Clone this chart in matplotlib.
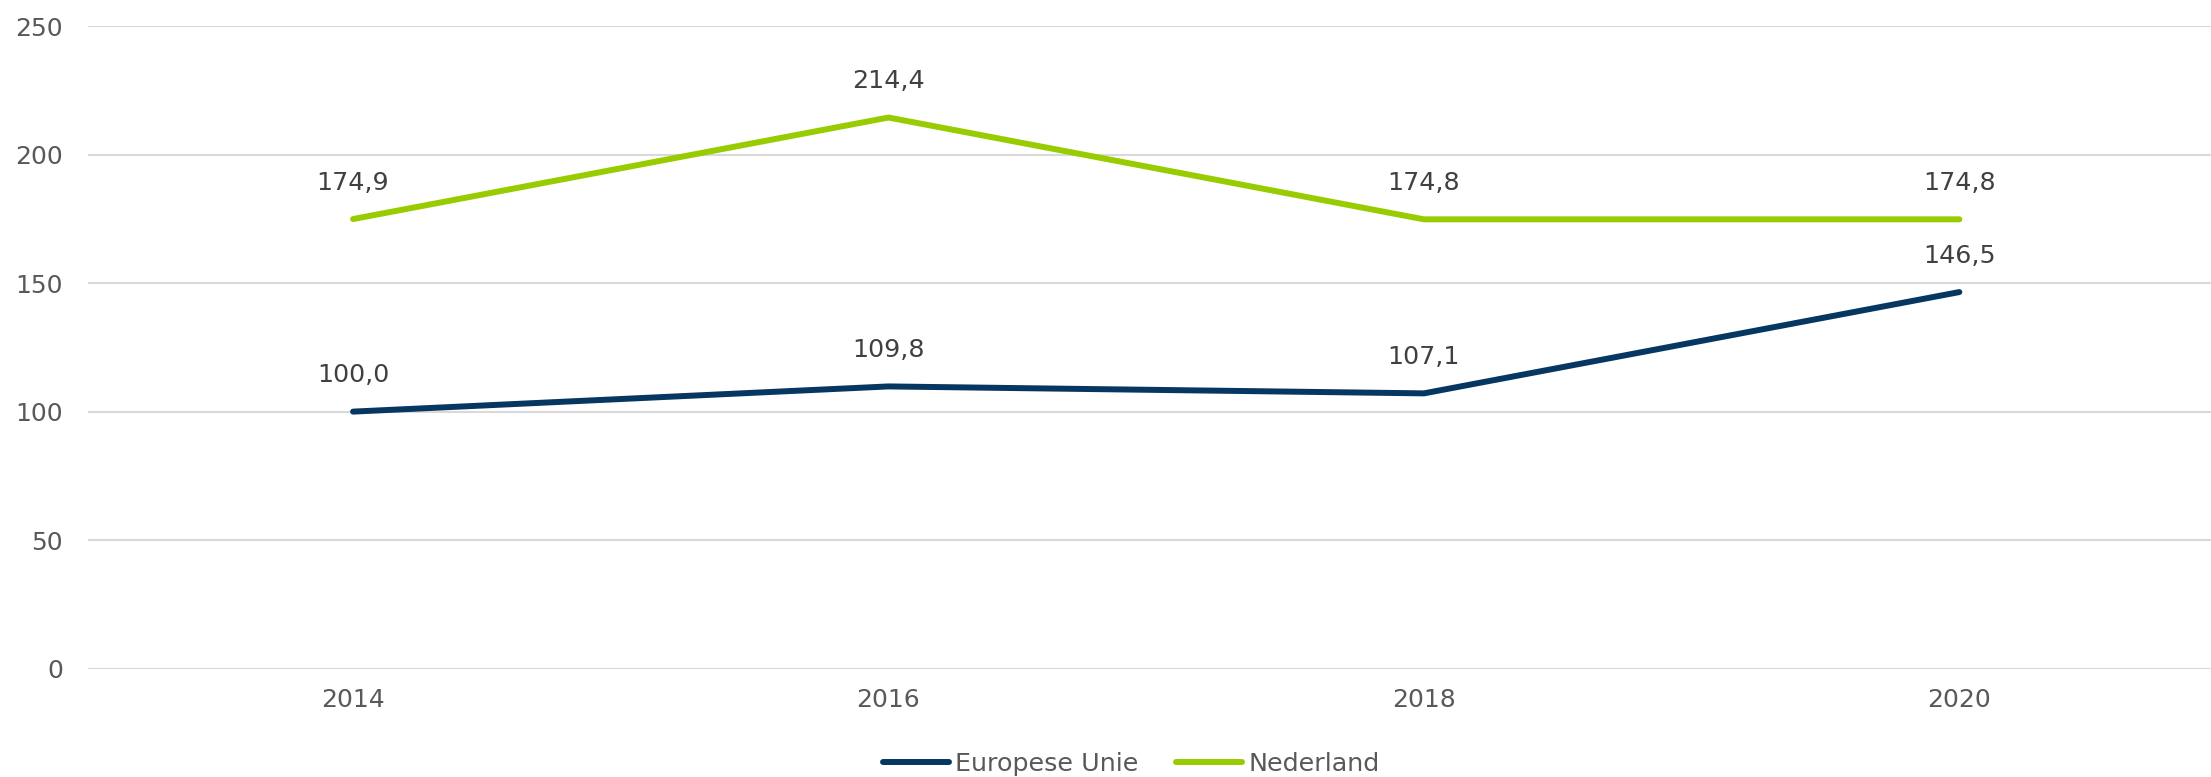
import matplotlib.pyplot as plt

# data
years = ['2014', '2016', '2018', '2020']
eu_values = [100.0, 109.8, 107.1, 146.5]
nl_values = [174.9, 214.4, 174.8, 174.8]
y_ticks = [0, 50, 100, 150, 200, 250]

eu_color = '#063761'
nl_color = '#99CC00'
grid_color = '#D9D9D9'
tick_color = '#595959'
label_color = '#404040'

plt.rcParams['font.family'] = ['DejaVu Sans']

fig = plt.figure(figsize=(22.11, 7.77), dpi=100)
ax = fig.add_axes([88 / 2211, 1 - 668.7 / 777, 1 - 88 / 2211, (668.7 - 26) / 777])

x = list(range(len(years)))

# gridlines first so the lines sit on top
for v in y_ticks:
    ax.axhline(v, color=grid_color, linewidth=1.5, zorder=1)

ax.plot(x, eu_values, color=eu_color, linewidth=4.3, solid_capstyle='round',
        solid_joinstyle='round', label='Europese Unie', zorder=3)
ax.plot(x, nl_values, color=nl_color, linewidth=4.3, solid_capstyle='round',
        solid_joinstyle='round', label='Nederland', zorder=3)

# data labels above each point, with a comma as decimal sign
for series in (eu_values, nl_values):
    for xi, v in zip(x, series):
        ax.annotate(f'{v:.1f}'.replace('.', ','), (xi, v), xytext=(0, 21),
                    textcoords='offset points', ha='center', va='baseline',
                    fontsize=18.3, color=label_color)

ax.set_xlim(-0.495, 3.47)
ax.set_ylim(0, 250)
ax.set_xticks(x)
ax.set_xticklabels(years)
ax.set_yticks(y_ticks)
ax.tick_params(axis='both', length=0, labelsize=18, labelcolor=tick_color)
ax.tick_params(axis='y', pad=18)
ax.tick_params(axis='x', pad=14)
for s in ax.spines.values():
    s.set_visible(False)

fig.legend(loc='center', bbox_to_anchor=(1131 / 2211, 1 - 764 / 777), ncol=2,
           frameon=False, fontsize=18.3, handlelength=2.6, handletextpad=0.23,
           columnspacing=1.5, labelcolor=tick_color)

fig.savefig('out.png', dpi=100)
